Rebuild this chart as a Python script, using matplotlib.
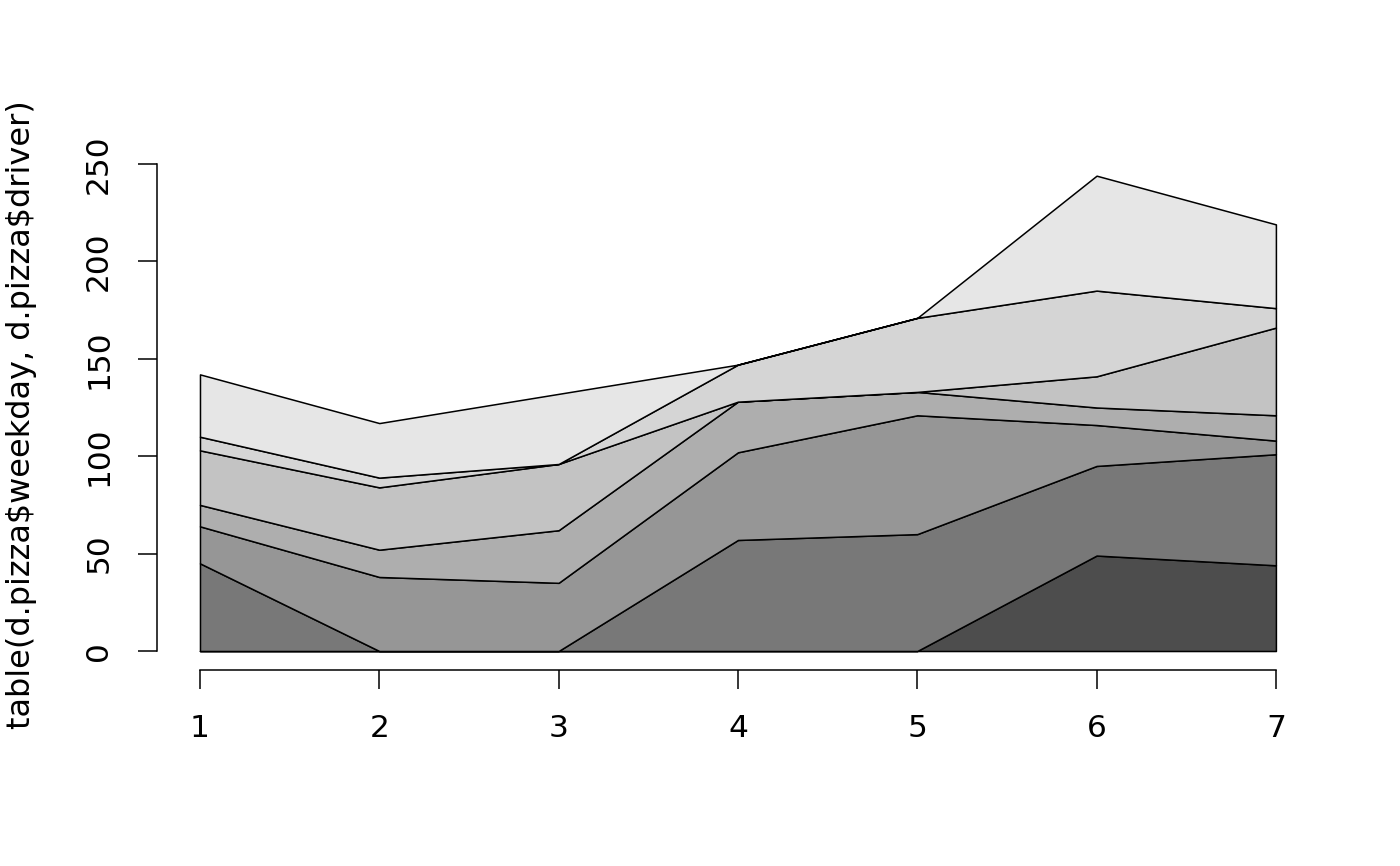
import numpy as np
import matplotlib
matplotlib.use("Agg")
from matplotlib import pyplot as plt

# table(d.pizza$weekday, d.pizza$driver)
weekday = [1, 2, 3, 4, 5, 6, 7]
butcher = [0, 0, 0, 0, 0, 49, 44]
carpenter = [45, 0, 0, 57, 60, 46, 57]
carter = [19, 38, 35, 45, 61, 21, 7]
farmer = [11, 14, 27, 26, 12, 9, 13]
hunter = [28, 32, 34, 0, 0, 16, 45]
miller = [7, 5, 0, 19, 38, 44, 10]
taylor = [32, 28, 36, 0, 0, 59, 43]

# gray.colors(7) de R
grises = ['#4D4D4D', '#787878', '#969696', '#AEAEAE', '#C3C3C3', '#D5D5D5', '#E6E6E6']

fig = plt.figure(figsize=[14, 8.66], dpi=100)
ax = fig.add_axes([0.1121, 0.2263, 0.83, 0.5928])

ax.stackplot(weekday, butcher, carpenter, carter, farmer, hunter, miller, taylor,
             colors=grises, edgecolor='black', linewidth=1.1)

top = np.sum([butcher, carpenter, carter, farmer, hunter, miller, taylor], axis=0).max()
ax.set_xlim(1 - 0.04 * 6, 7 + 0.04 * 6)
ax.set_ylim(-0.04 * top, top * 1.04)

# ejes estilo R
for s in ['top', 'right']:
    ax.spines[s].set_visible(False)
ax.spines['left'].set_bounds(0, 250)
ax.spines['bottom'].set_bounds(1, 7)
ax.spines['left'].set_linewidth(1.1)
ax.spines['bottom'].set_linewidth(1.1)

ax.set_xticks(weekday)
ax.set_yticks([0, 50, 100, 150, 200, 250])
ax.tick_params(axis='both', length=14, width=1.1, labelsize=22.5, pad=17.5)
for lab in ax.get_yticklabels():
    lab.set_rotation(90)
    lab.set_verticalalignment('center')

fig.text(0.0157, 0.5208, r'table(d.pizza\$weekday, d.pizza\$driver)',
         rotation=90, ha='center', va='center', fontsize=23)

plt.savefig('out.png', dpi=100)
